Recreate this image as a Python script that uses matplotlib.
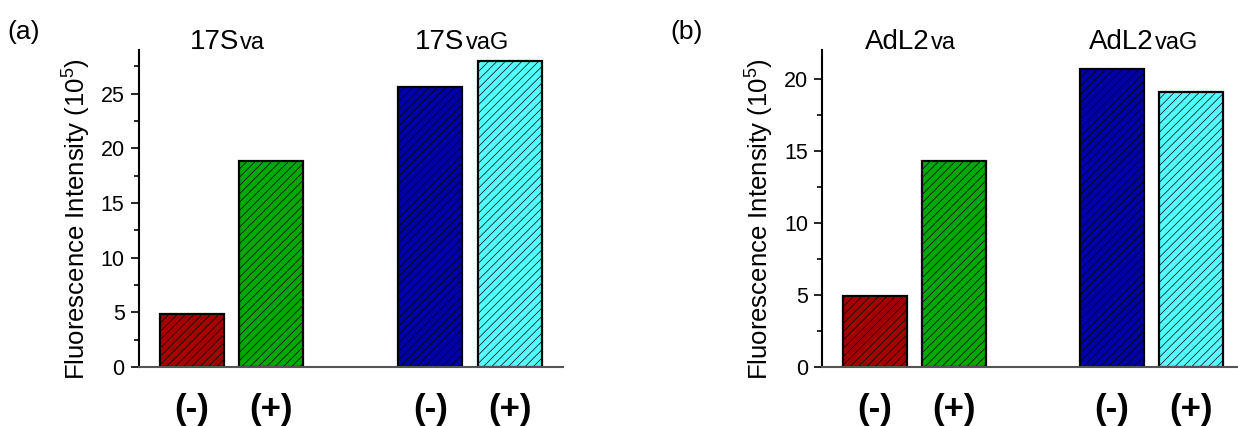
import matplotlib
matplotlib.use("Agg")
import matplotlib.pyplot as plt
from matplotlib.offsetbox import TextArea, HPacker, AnnotationBbox

plt.rcParams['font.family'] = ['Liberation Sans', 'DejaVu Sans']
plt.rcParams['mathtext.fontset'] = 'custom'
plt.rcParams['mathtext.rm'] = 'Liberation Sans'
plt.rcParams['mathtext.it'] = 'Liberation Sans'
plt.rcParams['hatch.linewidth'] = 0.5

# ---- data ----
positions = [0, 1, 3, 4]
signs = ["(-)", "(+)", "(-)", "(+)"]
bar_colors = ["#A40000", "#00A800", "#0000A4", "#55FFFF"]

panel_a_values = [4.85, 18.85, 25.6, 28.0]
panel_a_groups = [("17S", "va"), ("17S", "vaG")]
panel_b_values = [4.95, 14.3, 20.7, 19.1]
panel_b_groups = [("AdL2", "va"), ("AdL2", "vaG")]
group_centers = [0.45, 3.4]

ylabel = "Fluorescence Intensity (10$^{5}$)"

fig = plt.figure(figsize=(12.38, 4.26), dpi=100)

def make_panel(rect, values, groups, ymax, tag, tag_x):
    ax = fig.add_axes(rect)
    ax.bar(positions, values, width=0.8, color=bar_colors, edgecolor="black",
           linewidth=1.6, hatch="////")
    ax.set_xlim(-0.67, 4.67)
    ax.set_ylim(0, ymax)
    ax.spines['top'].set_visible(False)
    ax.spines['right'].set_visible(False)
    ax.spines['left'].set_linewidth(1.5)
    ax.spines['bottom'].set_linewidth(1.5)
    ax.spines['bottom'].set_color("#555555")
    ax.set_yticks(range(0, int(ymax) + 1, 5))
    ax.set_yticks([v + 2.5 for v in range(0, int(ymax), 5) if v + 2.5 < ymax], minor=True)
    ax.tick_params(axis='y', which='major', length=6, width=1.2, labelsize=15.5, pad=4)
    ax.tick_params(axis='y', which='minor', length=3.5, width=1.2)
    ax.set_xticks(positions)
    ax.set_xticklabels(signs, fontsize=25, fontweight='bold')
    ax.tick_params(axis='x', length=0, pad=19)
    ax.set_ylabel(ylabel, fontsize=18.5)
    ax.yaxis.set_label_coords(-0.108, 0.467)
    for (main, sub), xc in zip(groups, group_centers):
        kids = [TextArea(main, textprops=dict(size=20)),
                TextArea(sub, textprops=dict(size=17))]
        pack = HPacker(children=kids, align="baseline", pad=0, sep=1)
        ab = AnnotationBbox(pack, (xc, 0.985), xycoords=('data', 'axes fraction'),
                            box_alignment=(0.5, 0.0), frameon=False, pad=0,
                            annotation_clip=False)
        ax.add_artist(ab)
    fig.text(tag_x, 1 - 32 / 426, tag, fontsize=19, ha='center', va='center')
    return ax

make_panel([138.5 / 1238, 59 / 426, 424.5 / 1238, 317 / 426],
           panel_a_values, panel_a_groups, 29, "(a)", 24 / 1238)
make_panel([822 / 1238, 59 / 426, 422 / 1238, 317 / 426],
           panel_b_values, panel_b_groups, 22, "(b)", 687 / 1238)

fig.savefig("out.png", dpi=100)
